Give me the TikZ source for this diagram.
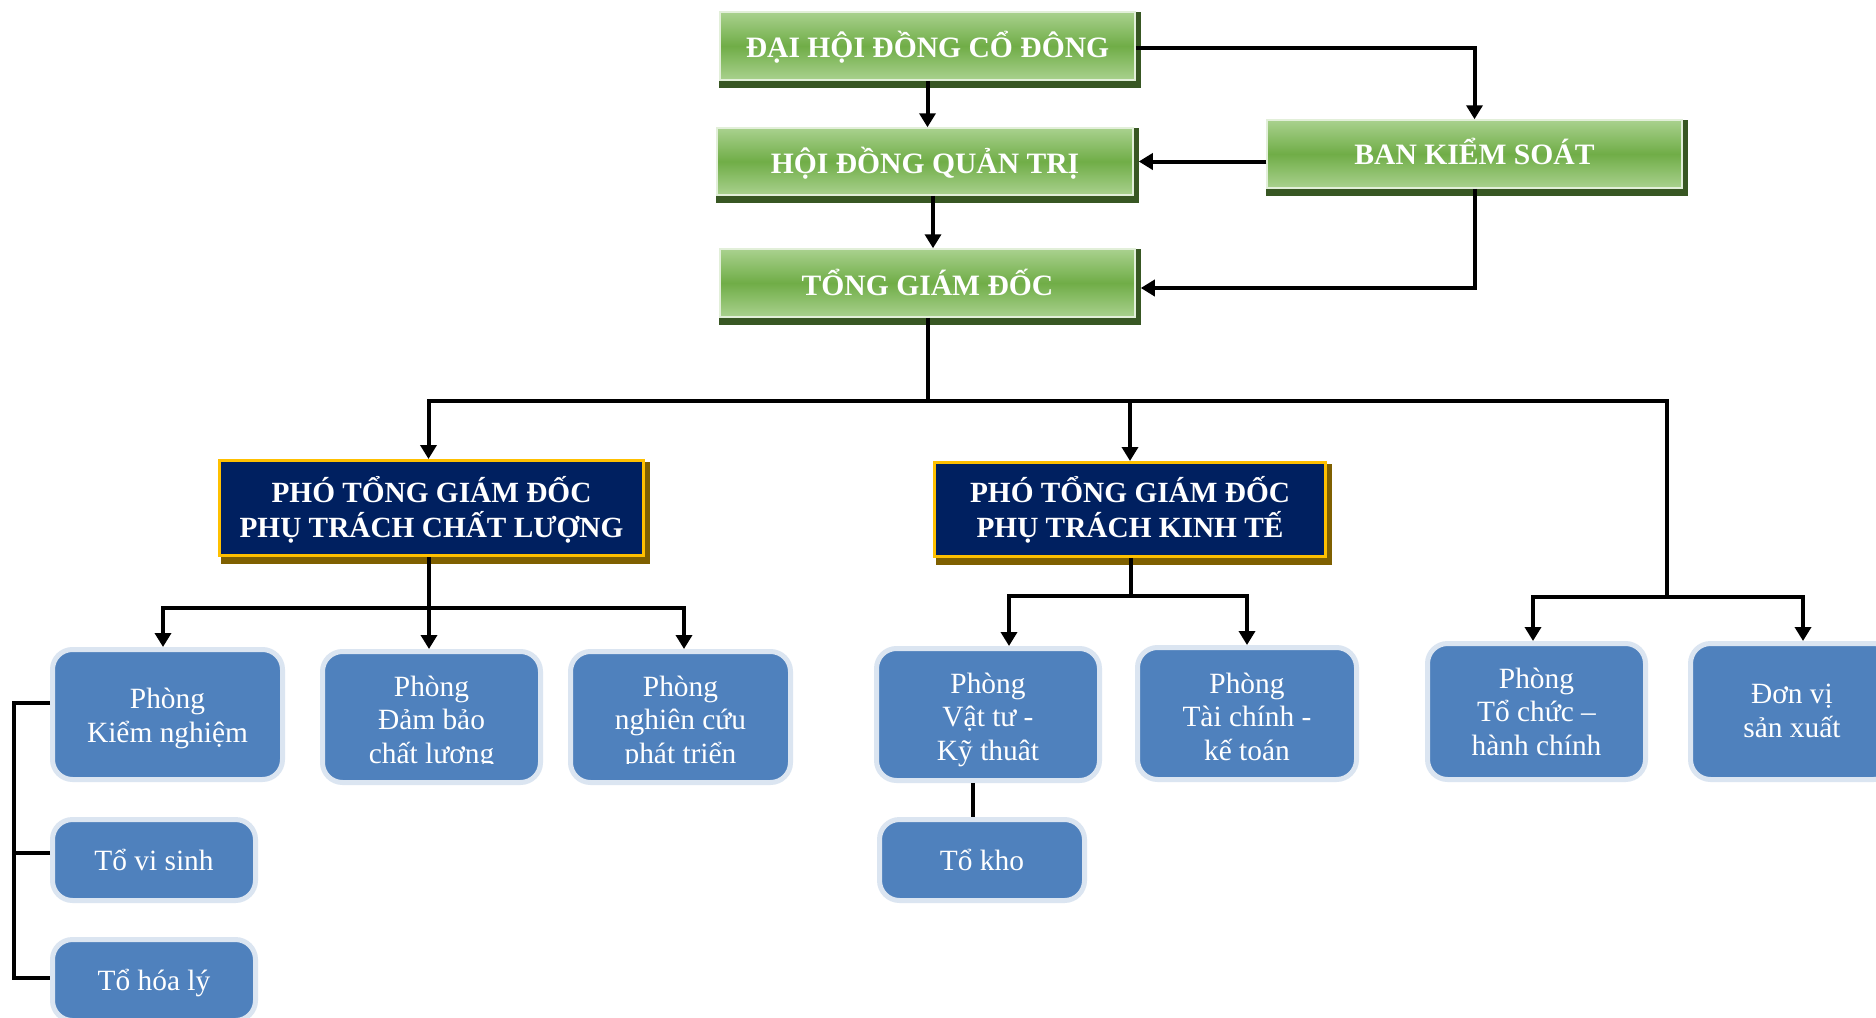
\documentclass[tikz,border=0pt]{standalone}
\usepackage{fontspec}
\setmainfont{Liberation Serif}
\usetikzlibrary{arrows.meta,backgrounds,calc}
\definecolor{gLight}{HTML}{A9D18E}
\definecolor{gDark}{HTML}{70AD47}
\definecolor{gEdge}{HTML}{E2EFD9}
\definecolor{gShadow}{HTML}{385723}
\definecolor{navy}{HTML}{002060}
\definecolor{gold}{HTML}{FFC000}
\definecolor{nShadow}{HTML}{7F6000}
\definecolor{bFill}{HTML}{4F81BD}
\definecolor{bEdge}{HTML}{DBE5F1}
\tikzset{
  greenbox/.style={rectangle, top color=gLight, bottom color=gLight, middle color=gDark, draw=gEdge, line width=1.5pt, inner sep=0pt},
  navybox/.style={rectangle, fill=navy, draw=gold, line width=3pt, inner sep=0pt},
  bluebox/.style={rectangle, rounded corners=20pt, fill=bFill, draw=bEdge, line width=5pt, inner sep=0pt},
  gtext/.style={text=white, font=\fontsize{29.6}{35}\selectfont\bfseries, anchor=base, inner sep=0pt},
  ntext/.style={text=white, font=\fontsize{29.3}{35}\selectfont\bfseries, align=center, anchor=base, inner sep=0pt},
  btext/.style={text=white, font=\fontsize{29.4}{33.5}\selectfont, align=center, anchor=base, inner sep=0pt},
  conn/.style={draw=black, line width=4pt},
  arr/.style={conn, -{Triangle[width=16pt,length=14pt]}}
}
\begin{document}
\begin{tikzpicture}[x=1pt,y=-1pt]
\useasboundingbox (0,0) rectangle (1876,1017);
\clip (0,0) rectangle (1876,1017);
% green boxes
\node[greenbox, minimum width=415, minimum height=68] (dh) at (927.5,46) {};
\node[greenbox, minimum width=416, minimum height=67] (hd) at (925,161.5) {};
\node[greenbox, minimum width=415, minimum height=68] (tg) at (927.5,283) {};
\node[greenbox, minimum width=415, minimum height=68] (bk) at (1474.5,154) {};
\node[gtext] (dhT) at (927.5,57) {ĐẠI HỘI ĐỒNG CỔ ĐÔNG};
\node[gtext] (hdT) at (925,173) {HỘI ĐỒNG QUẢN TRỊ};
\node[gtext] (tgT) at (927.5,295) {TỔNG GIÁM ĐỐC};
\node[gtext] (bkT) at (1474.5,164) {BAN KIỂM SOÁT};
% navy boxes
\node[navybox, minimum width=424, minimum height=95] (pc) at (431.5,508) {};
\node[navybox, minimum width=391, minimum height=94] (pk) at (1130,509.5) {};
\node[ntext] (pcT) at (431.5,537) {PHÓ TỔNG GIÁM ĐỐC\\PHỤ TRÁCH CHẤT LƯỢNG};
\node[ntext] (pkT) at (1130,537) {PHÓ TỔNG GIÁM ĐỐC\\PHỤ TRÁCH KINH TẾ};
% shadows
\begin{pgfonlayer}{background}
\fill[white] (0,0) rectangle (1876,1017);
\foreach \b in {dh,hd,tg,bk}{
  \fill[gShadow] ([shift={(0,1)}]\b.north west) rectangle ([shift={(5,7)}]\b.south east);
}
\foreach \b in {pc,pk}{
  \fill[nShadow] ([shift={(3,3)}]\b.north west) rectangle ([shift={(5,7)}]\b.south east);
}
\end{pgfonlayer}
% blue boxes
\node[bluebox, minimum width=230, minimum height=130] (kn) at (167.5,714.5) {};
\node[bluebox, minimum width=218, minimum height=131] (db) at (431.5,717) {};
\node[bluebox, minimum width=220, minimum height=131] (nc) at (680.5,717) {};
\node[bluebox, minimum width=223, minimum height=132] (vt) at (988,714.5) {};
\node[bluebox, minimum width=219, minimum height=132] (tcn) at (1247,713.5) {};
\node[bluebox, minimum width=218, minimum height=136] (tc) at (1536.5,711.5) {};
\node[bluebox, minimum width=203, minimum height=136] (dv) at (1792,711.5) {};
\node[bluebox, minimum width=203, minimum height=81] (vs) at (154,860) {};
\node[bluebox, minimum width=203, minimum height=81] (hl) at (154,980) {};
\node[bluebox, minimum width=205, minimum height=81] (tk) at (982,860) {};
\node[btext] (knT) at (167.5,742) {Phòng\\Kiểm nghiệm};
\begin{scope}
\clip (320,640) rectangle (800,763);
\node[btext] (dbT) at (431.5,763) {Phòng\\Đảm bảo\\chất lương};
\node[btext] (ncT) at (680.5,763) {Phòng\\nghiên cứu\\phát triển};
\end{scope}
\node[btext] (vtT) at (988,760) {Phòng\\Vật tư -\\Kỹ thuât};
\node[btext] (tcnT) at (1247,760) {Phòng\\Tài chính -\\kế toán};
\node[btext] (tcT) at (1536.5,755) {Phòng\\Tổ chức –\\hành chính};
\node[btext] (dvT) at (1792,737) {Đơn vị\\sản xuất};
\node[btext] (vsT) at (154,870) {Tổ vi sinh};
\node[btext] (hlT) at (154,990) {Tổ hóa lý};
\node[btext] (tkT) at (982,870) {Tổ kho};
% connectors top
\draw[arr] (dh.south) -- (dh.south |- hd.north);
\draw[arr] ([yshift=-2pt]dh.east) -| (bk.north);
\draw[arr] (bk.west |- hd.east) -- ([xshift=5pt]hd.east);
\draw[arr] (bk.south) |- ([xshift=5pt,yshift=-5pt]tg.east);
\draw[arr] ([xshift=8pt]hd.south) -- ([xshift=8pt]hd.south |- tg.north);
% trunk
\coordinate (j1) at (927.5,401);
\coordinate (bR) at (1667,401);
\coordinate (j2) at (1667,597);
\coordinate (tcA) at (1533,597);
\coordinate (dvA) at (1803,597);
\draw[conn] (tg.south) -- (j1);
\draw[arr] (j1) -| ([xshift=-3pt]pc.north);
\draw[conn] (j1) -- (bR) -- (j2);
\draw[arr] (pk.north |- j1) -- (pk.north);
\draw[arr] (j2) -| (tcA |- tc.north);
\draw[arr] (j2) -| (dvA |- dv.north);
% quality subtree
\coordinate (j3) at (429,608);
\draw[conn] ([xshift=-2.5pt]pc.south) -- (j3);
\draw[arr] (j3) -| ([xshift=-4.5pt]kn.north);
\draw[arr] (j3) -- (j3 |- db.north);
\draw[arr] (j3) -| ([xshift=3.5pt]nc.north);
% economy subtree
\coordinate (j4) at (1131,596);
\draw[conn] ([xshift=1pt]pk.south) -- (j4);
\draw[arr] (j4) -| ([xshift=21pt]vt.north);
\draw[arr] (j4) -| (tcn.north);
\draw[conn] ([xshift=-15pt]vt.south) -- ([xshift=-15pt]vt.south |- tk.north);
% left bracket
\coordinate (lbT) at (14,703);
\coordinate (lbB) at (14,978);
\draw[conn] ([yshift=11.5pt]kn.west) -- (lbT) -- (lbB) -- ([yshift=2pt]hl.west);
\draw[conn] ([yshift=7pt]vs.west) -- ([yshift=7pt]vs.west -| lbT);
\end{tikzpicture}
\end{document}
